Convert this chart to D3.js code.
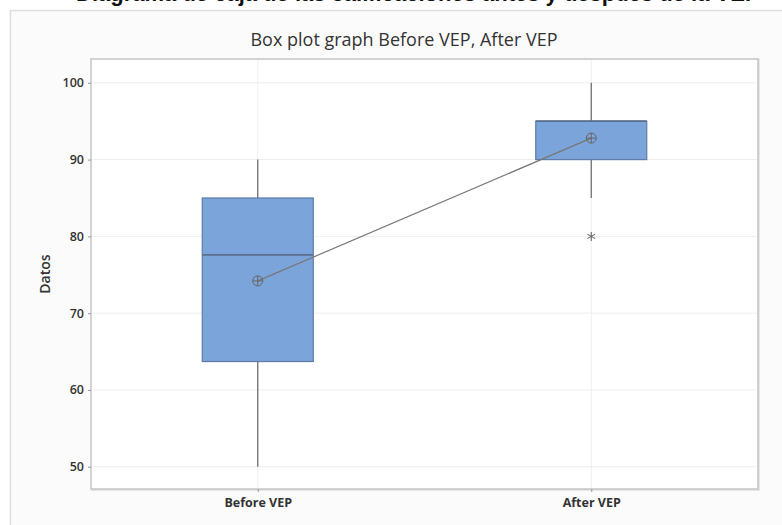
<!DOCTYPE html>
<html>
<head>
<meta charset="utf-8">
<script src="https://cdn.jsdelivr.net/npm/d3@7"></script>
<style>
  html, body { margin: 0; padding: 0; background: #ffffff; }
  svg { display: block; }
</style>
</head>
<body>
<svg id="chart" width="782" height="525"></svg>
<script>
// ---- data ----
const categories = ["Before VEP", "After VEP"];
const q1Values = [63.7, 90];
const medianValues = [77.6, 95];
const q3Values = [85, 95];
const whiskerLow = [50, 85];
const whiskerHigh = [90, 100];
const meanValues = [74.2, 92.8];
const outlierValues = [[], [80]];
const yTicks = [50, 60, 70, 80, 90, 100];
const titleText = "Box plot graph Before VEP, After VEP";
const yLabel = "Datos";
const captionText = "Diagrama de caja de las calificaciones antes y después de la VEP";

// ---- layout ----
const W = 782, H = 525;
const plot = { left: 91, right: 758, top: 59, bottom: 489 };
const boxWidth = 111;

const svg = d3.select("#chart");

// cut-off caption at very top
svg.append("text")
  .attr("x", 76).attr("y", 1)
  .attr("font-family", "Liberation Sans, Arial, sans-serif")
  .attr("font-weight", "bold")
  .attr("font-size", 22)
  .attr("fill", "#111")
  .text(captionText);

// outer frame
svg.append("rect")
  .attr("x", 10.5).attr("y", 10.5)
  .attr("width", W + 10).attr("height", H + 10)
  .attr("fill", "#fbfbfb")
  .attr("stroke", "#dedede").attr("stroke-width", 1.5);

// plot area
svg.append("rect")
  .attr("x", plot.left + 1).attr("y", plot.top + 1)
  .attr("width", plot.right - plot.left).attr("height", plot.bottom - plot.top)
  .attr("fill", "none").attr("stroke", "#e6e6e6").attr("stroke-width", 2);
svg.append("rect")
  .attr("x", plot.left).attr("y", plot.top)
  .attr("width", plot.right - plot.left).attr("height", plot.bottom - plot.top)
  .attr("fill", "#ffffff").attr("stroke", "#c4c4c4").attr("stroke-width", 1.5);

// scales
const y = d3.scaleLinear().domain([47.1, 103.1]).range([plot.bottom, plot.top]);
const x = d3.scalePoint().domain(categories).range([plot.left, plot.right]).padding(0.5);

// grid
const grid = svg.append("g");
grid.selectAll("line.h").data(yTicks).join("line")
  .attr("class", "h")
  .attr("x1", plot.left + 1).attr("x2", plot.right - 1)
  .attr("y1", d => y(d)).attr("y2", d => y(d))
  .attr("stroke", "#eeeeee").attr("stroke-width", 1);
grid.selectAll("line.v").data(categories).join("line")
  .attr("class", "v")
  .attr("x1", d => x(d)).attr("x2", d => x(d))
  .attr("y1", plot.top + 1).attr("y2", plot.bottom - 1)
  .attr("stroke", "#eeeeee").attr("stroke-width", 1);

// axes
const yAxis = svg.append("g")
  .attr("transform", `translate(${plot.left},0)`)
  .call(d3.axisLeft(y).tickValues(yTicks).tickSize(3).tickPadding(4).tickFormat(d3.format("d")));
yAxis.select(".domain").remove();
yAxis.selectAll(".tick line").attr("stroke", "#999");
yAxis.selectAll(".tick text")
  .attr("font-family", "Open Sans, sans-serif")
  .attr("font-size", 12.5).attr("font-weight", 600).attr("fill", "#333");

const xAxis = svg.append("g")
  .attr("transform", `translate(0,${plot.bottom})`)
  .call(d3.axisBottom(x).tickSize(3).tickPadding(6));
xAxis.select(".domain").remove();
xAxis.selectAll(".tick line").attr("stroke", "#999");
xAxis.selectAll(".tick text")
  .attr("font-family", "Open Sans, sans-serif")
  .attr("font-size", 12.5).attr("font-weight", 700).attr("fill", "#333");

// box plot data
const boxes = categories.map((c, i) => ({
  cat: c, q1: q1Values[i], med: medianValues[i], q3: q3Values[i],
  lo: whiskerLow[i], hi: whiskerHigh[i], mean: meanValues[i], out: outlierValues[i]
}));

const g = svg.append("g");
// whiskers
g.selectAll("line.wlo").data(boxes).join("line")
  .attr("x1", d => x(d.cat)).attr("x2", d => x(d.cat))
  .attr("y1", d => y(d.q1)).attr("y2", d => y(d.lo))
  .attr("stroke", "#6f6f6f").attr("stroke-width", 1.3);
g.selectAll("line.whi").data(boxes).join("line")
  .attr("x1", d => x(d.cat)).attr("x2", d => x(d.cat))
  .attr("y1", d => y(d.q3)).attr("y2", d => y(d.hi))
  .attr("stroke", "#6f6f6f").attr("stroke-width", 1.3);
// boxes
g.selectAll("rect.box").data(boxes).join("rect")
  .attr("x", d => x(d.cat) - boxWidth / 2)
  .attr("width", boxWidth)
  .attr("y", d => y(d.q3))
  .attr("height", d => y(d.q1) - y(d.q3))
  .attr("fill", "#7ba4da")
  .attr("stroke", "#5d7ca6").attr("stroke-width", 1.2);
// medians
g.selectAll("line.med").data(boxes).join("line")
  .attr("x1", d => x(d.cat) - boxWidth / 2).attr("x2", d => x(d.cat) + boxWidth / 2)
  .attr("y1", d => y(d.med)).attr("y2", d => y(d.med))
  .attr("stroke", "#5a6f8c").attr("stroke-width", 1.8);
// mean connect line
g.append("path")
  .datum(boxes)
  .attr("d", d3.line().x(d => x(d.cat)).y(d => y(d.mean)))
  .attr("fill", "none").attr("stroke", "#777").attr("stroke-width", 1.2);
// mean symbols
const ms = g.selectAll("g.mean").data(boxes).join("g")
  .attr("transform", d => `translate(${x(d.cat)},${y(d.mean)})`);
ms.append("circle").attr("r", 5).attr("fill", "none").attr("stroke", "#666").attr("stroke-width", 1);
ms.append("line").attr("x1", -5).attr("x2", 5).attr("stroke", "#666").attr("stroke-width", 1);
ms.append("line").attr("y1", -5).attr("y2", 5).attr("stroke", "#666").attr("stroke-width", 1);
// outliers (asterisk)
const outs = boxes.flatMap(d => d.out.map(v => ({ cat: d.cat, v })));
const os = g.selectAll("g.out").data(outs).join("g")
  .attr("transform", d => `translate(${x(d.cat)},${y(d.v)})`);
[0, 60, 120].forEach(a => {
  os.append("line").attr("x1", 0).attr("x2", 0).attr("y1", -4.5).attr("y2", 4.5)
    .attr("transform", `rotate(${a})`).attr("stroke", "#666").attr("stroke-width", 1.1);
});

// title
svg.append("text")
  .attr("x", 404).attr("y", 46)
  .attr("text-anchor", "middle")
  .attr("font-family", "Open Sans, sans-serif")
  .attr("font-size", 18).attr("fill", "#333")
  .text(titleText);

// y label
svg.append("text")
  .attr("transform", `translate(50,${(plot.top + plot.bottom) / 2}) rotate(-90)`)
  .attr("text-anchor", "middle")
  .attr("font-family", "Open Sans, sans-serif")
  .attr("font-size", 14).attr("font-weight", 600).attr("fill", "#333")
  .text(yLabel);
</script>
</body>
</html>
